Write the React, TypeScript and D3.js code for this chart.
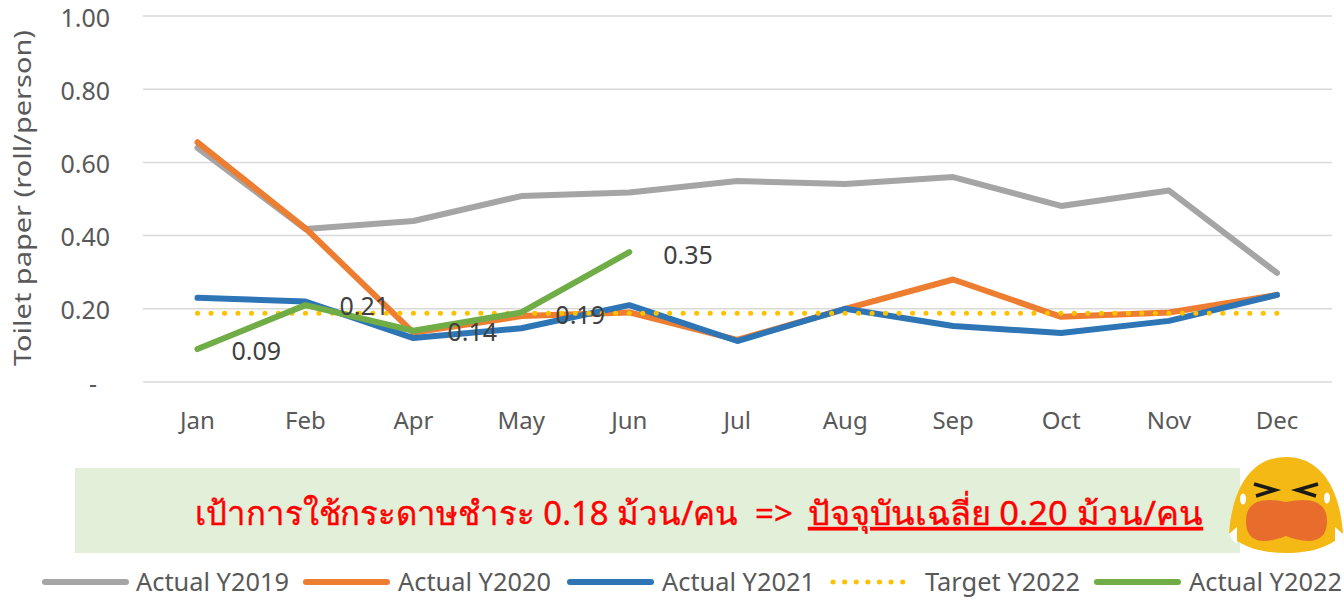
import React from "react";
import { scaleLinear, scalePoint, line, format } from "d3";

const months = ["Jan", "Feb", "Apr", "May", "Jun", "Jul", "Aug", "Sep", "Oct", "Nov", "Dec"];
const yTicks = [0, 0.2, 0.4, 0.6, 0.8, 1.0];

const actual2019 = [0.64, 0.418, 0.44, 0.508, 0.518, 0.549, 0.541, 0.56, 0.481, 0.523, 0.298];
const actual2020 = [0.655, 0.42, 0.135, 0.18, 0.19, 0.115, 0.2, 0.28, 0.178, 0.19, 0.238];
const actual2021 = [0.23, 0.22, 0.12, 0.147, 0.21, 0.112, 0.2, 0.153, 0.134, 0.167, 0.238];
const target2022 = [0.188, 0.188, 0.188, 0.188, 0.188, 0.188, 0.188, 0.188, 0.188, 0.188, 0.188];
const actual2022 = [0.09, 0.21, 0.14, 0.19, 0.355];
const labels2022 = ["0.09", "0.21", "0.14", "0.19", "0.35"];

const font = "'Noto Sans', 'Open Sans', sans-serif";
const grey = "#595959";

const x = scalePoint<string>().domain(months).range([197.5, 1277]);
const y = scaleLinear().domain([0, 1]).range([382, 16]);

const path = line<number>()
  .x((_, i) => x(months[i]) as number)
  .y((d) => y(d));

// drawing order follows the legend, 2022 goes on top
const series = [
  { name: "Actual Y2019", values: actual2019, color: "#a5a5a5", legendX: 45, textX: 136 },
  { name: "Actual Y2020", values: actual2020, color: "#ed7d31", legendX: 306, textX: 398 },
  { name: "Actual Y2021", values: actual2021, color: "#2e75b6", legendX: 570, textX: 662 },
  { name: "Target Y2022", values: target2022, color: "#ffc000", legendX: 833, textX: 925, dotted: true },
  { name: "Actual Y2022", values: actual2022, color: "#70ad47", legendX: 1097, textX: 1189 },
];

// data labels of the last series, offsets as they sit in the picture
const labelDx = [34, 34, 34, 34, 34];
const labelDy = [2, 1, 1, 3, 3];

const App = () => {
  return (
    <svg
      width={1344}
      height={601}
      style={{ position: "absolute", left: 0, top: 0, background: "#fff" }}
      fontFamily={font}
    >
      {yTicks.map((t) => (
        <g key={t}>
          <line x1={143} x2={1332} y1={y(t)} y2={y(t)} stroke="#d9d9d9" strokeWidth={1.5} />
          {/* zero is an accounting dash, it sits left of the decimals */}
          <text x={t === 0 ? 97 : 110} y={y(t)} dy="0.42em" textAnchor="end" fontSize={25} fill={grey}>
            {t === 0 ? "-" : format(".2f")(t)}
          </text>
        </g>
      ))}

      <text
        transform="translate(31,198) rotate(-90)"
        textAnchor="middle"
        fontSize={24}
        fill={grey}
        textLength={336}
        lengthAdjust="spacingAndGlyphs"
      >
        Toilet paper (roll/person)
      </text>

      {months.map((m) => (
        <text key={m} x={x(m)} y={429} textAnchor="middle" fontSize={24} fill={grey}>
          {m}
        </text>
      ))}

      {series.map((s) => (
        <path
          key={s.name}
          d={path(s.values) as string}
          fill="none"
          stroke={s.color}
          strokeWidth={s.dotted ? 5 : 6}
          strokeLinecap="round"
          strokeLinejoin="round"
          strokeDasharray={s.dotted ? "0.1 13.39" : undefined}
        />
      ))}

      {actual2022.map((v, i) => (
        <text
          key={i}
          x={(x(months[i]) as number) + labelDx[i]}
          y={y(v) + labelDy[i]}
          dy="0.35em"
          fontSize={25}
          fill="#404040"
        >
          {labels2022[i]}
        </text>
      ))}

      <rect x={75} y={468} width={1165} height={85} fill="#e2efd9" />
      <g fontSize={33} fill="#ff0000" stroke="#ff0000" strokeWidth={0.4} fontFamily="'Noto Sans', 'DejaVu Sans', sans-serif">
        <text x={195} y={525} textLength={543} lengthAdjust="spacingAndGlyphs">
          เป้าการใช้กระดาษชำระ 0.18 ม้วน/คน
        </text>
        <text x={755} y={525}>{"=>"}</text>
        <text x={808} y={525} textLength={395} lengthAdjust="spacingAndGlyphs" textDecoration="underline">
          ปัจจุบันเฉลี่ย 0.20 ม้วน/คน
        </text>
      </g>

      {/* crying face */}
      <g>
        <path
          d="M1229 534 C1232 490 1250 457 1286 457 C1322 457 1340 490 1343 534 C1332 546 1312 553 1286 553 C1260 553 1240 546 1229 534 Z"
          fill="#f5b916"
        />
        <path
          d="M1246 521 C1246 500 1264 497 1286 502 C1308 497 1327 500 1327 521 C1327 546 1304 543 1286 536 C1268 543 1246 546 1246 521 Z"
          fill="#e86c2c"
        />
        <path d="M1254 484 L1275 490 L1256 496" fill="none" stroke="#1a1a1a" strokeWidth={3.5} />
        <path d="M1318 484 L1297 490 L1316 496" fill="none" stroke="#1a1a1a" strokeWidth={3.5} />
        <ellipse cx={1243} cy={499} rx={3} ry={5.5} fill="#fff" />
        <ellipse cx={1327} cy={498} rx={3} ry={5.5} fill="#fff" />
        <path d="M1229 534 L1237 527 L1237 544 C1233 541 1231 538 1229 534 Z" fill="#fff" />
        <path d="M1343 534 L1335 527 L1335 544 C1339 541 1341 538 1343 534 Z" fill="#fff" />
      </g>

      {series.map((s) => (
        <g key={s.name}>
          <line
            x1={s.legendX}
            x2={s.legendX + 81}
            y1={582}
            y2={582}
            stroke={s.color}
            strokeWidth={s.dotted ? 5 : 6}
            strokeLinecap="round"
            strokeDasharray={s.dotted ? "0.1 11.5" : undefined}
          />
          <text x={s.textX} y={591} fontSize={25} fill={grey} textLength={s.name.startsWith("Target") ? 155 : 153} lengthAdjust="spacingAndGlyphs">
            {s.name}
          </text>
        </g>
      ))}
    </svg>
  );
};

export default App;
